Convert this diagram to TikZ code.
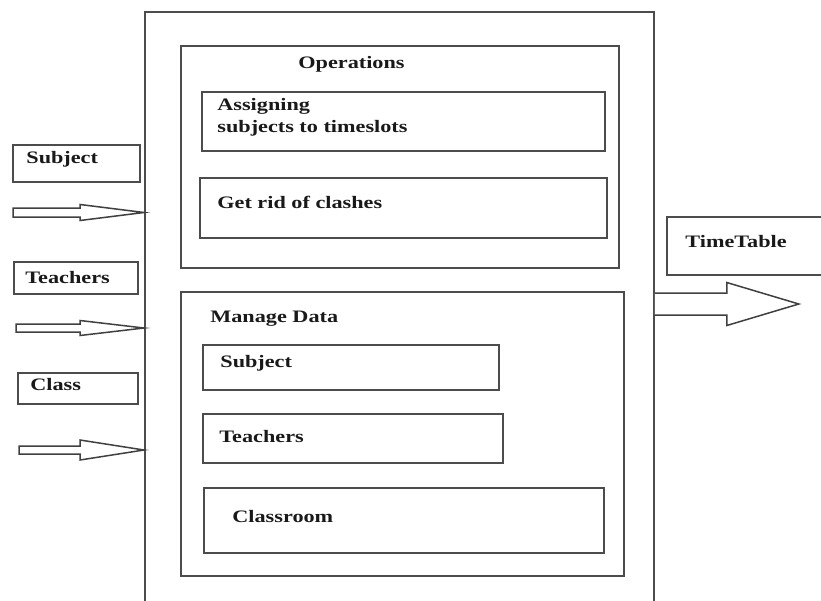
\documentclass[tikz,border=0pt]{standalone}
\usepackage{fontspec}
\setmainfont{Liberation Serif}[FakeStretch=1.27]
\usetikzlibrary{positioning}

\begin{document}
\begin{tikzpicture}[x=1pt,y=-1pt,thick,font=\fontsize{17.5}{22}\selectfont\bfseries]
      \tikzstyle{box} = [draw=black!70, line width=1.8pt, rectangle, inner sep=0pt, anchor=north west]
      \tikzstyle{txt} = [inner sep=0pt, anchor=base west, text=black!90]
      \tikzstyle{block} = [draw=black!75, line width=1.5pt, fill=white, line join=miter]
      \useasboundingbox (0,0) rectangle (821,600);

      %boxes
      \node[box, minimum width=509pt, minimum height=600pt] (system)   at (144,11)  {};
      \node[box, minimum width=438pt, minimum height=222pt] (ops)      at (180,45)  {};
      \node[box, minimum width=403pt, minimum height=59pt]  (assign)   at (201,91)  {};
      \node[box, minimum width=407pt, minimum height=60pt]  (clash)    at (199,177) {};
      \node[box, minimum width=443pt, minimum height=284pt] (data)     at (180,291) {};
      \node[box, minimum width=296pt, minimum height=45pt]  (dSubject) at (202,344) {};
      \node[box, minimum width=300pt, minimum height=49pt]  (dTeacher) at (202,413) {};
      \node[box, minimum width=400pt, minimum height=65pt]  (dRoom)    at (203,487) {};
      \node[box, minimum width=127pt, minimum height=37pt]  (inSubject) at (12,144) {};
      \node[box, minimum width=124pt, minimum height=32pt]  (inTeacher) at (13,261) {};
      \node[box, minimum width=120pt, minimum height=31pt]  (inClass)   at (17,372) {};
      \node[box, minimum width=160pt, minimum height=58pt]  (outTime)   at (666,216) {};

      %texts
      \node[txt] (opsText)    at (298,68)  {Operations};
      \node[txt, anchor=north west, align=left] (assignText) at (217,98) {Assigning\\subjects to timeslots};
      \node[txt] (clashText)  at (217,208) {Get rid of clashes};
      \node[txt] (dataText)   at (210,322) {Manage Data};
      \node[txt] (dSubjText)  at (220,367) {Subject};
      \node[txt] (dTeachText) at (219,442) {Teachers};
      \node[txt] (dRoomText)  at (232,522) {Classroom};
      \node[txt] (inSubjText)  at (26,163) {Subject};
      \node[txt] (inTeachText) at (25,283) {Teachers};
      \node[txt] (inClassText) at (30,390) {Class};
      \node[txt] (outTimeText) at (685,247) {TimeTable};

      %arrows
      \coordinate (subjTail)  at (13,212.5);
      \coordinate (teachTail) at (16,328);
      \coordinate (classTail) at (19,450);
      \coordinate (outTail)   at (system.east |- 0,304);
      \draw[block] (subjTail) ++(0,-4.5) -- ++(67,0) -- ++(0,-3.5) -- (system.west |- subjTail)
            -- ++(-64,8) -- ++(0,-3.5) -- ++(-67,0) -- cycle;
      \draw[block] (teachTail) ++(0,-4) -- ++(64,0) -- ++(0,-3.5) -- (system.west |- teachTail)
            -- ++(-64,7.5) -- ++(0,-3.5) -- ++(-64,0) -- cycle;
      \draw[block] (classTail) ++(0,-4) -- ++(61,0) -- ++(0,-6) -- (system.west |- classTail)
            -- ++(-64,10) -- ++(0,-6) -- ++(-61,0) -- cycle;
      \draw[block] (outTail) ++(0,-11) -- ++(72,0) -- ++(0,-10.5) -- ++(72,21.5)
            -- ++(-72,21.5) -- ++(0,-10.5) -- ++(-72,0);
\end{tikzpicture}
\end{document}
